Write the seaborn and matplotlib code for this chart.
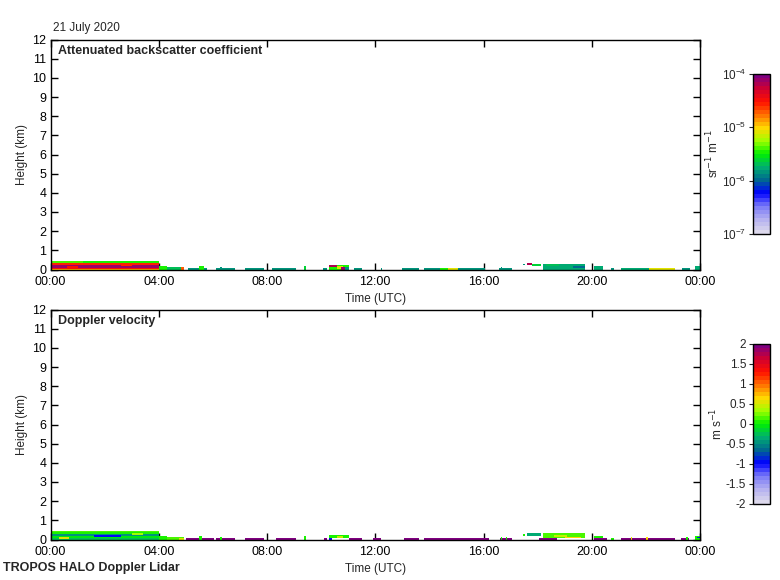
import numpy as np
import matplotlib
matplotlib.use("Agg")
import matplotlib.pyplot as plt
from matplotlib.colors import LogNorm, Normalize
import seaborn as sns

# Quicklook HALO Doppler lidar, 21 July 2020
date_label = "21 July 2020"
time_ticks = [0, 4, 8, 12, 16, 20, 24]
time_labels = ["00:00", "04:00", "08:00", "12:00", "16:00", "20:00", "00:00"]
height_ticks = list(range(0, 13))
vel_ticks = [-2, -1.5, -1, -0.5, 0, 0.5, 1, 1.5, 2]
vel_ticklabels = ["-2", "-1.5", "-1", "-0.5", "0", "0.5", "1", "1.5", "2"]

# backscatter echoes: start (h), end (h), bottom (km), top (km), log10(beta / sr-1 m-1)
bsc_t0 = [0.0, 0.0, 0.0, 0.0, 0.0, 0.0, 1.2, 0.6, 2.6, 4.0, 4.3, 4.85, 5.06, 5.5, 6.1, 6.27,
          7.2, 8.15, 9.37, 10.07, 10.3, 10.3, 10.6, 10.75, 10.9, 11.2, 12.2, 13.0, 13.8, 14.4,
          14.7, 16.55, 16.64, 17.47, 17.6, 17.8, 18.2, 18.3, 19.3, 20.1, 20.7, 21.05, 22.1,
          23.35, 23.8]
bsc_t1 = [4.0, 4.0, 4.0, 4.0, 4.0, 1.2, 4.0, 1.0, 3.0, 4.3, 4.95, 4.95, 5.8, 5.67, 6.85, 6.33,
          7.9, 9.07, 9.43, 10.25, 11.04, 10.6, 10.8, 10.9, 11.04, 11.5, 12.25, 13.6, 16.05, 14.7,
          15.07, 17.05, 16.7, 17.53, 17.8, 18.15, 19.75, 18.8, 19.75, 20.45, 20.85, 22.1, 23.05,
          23.65, 24.0]
bsc_z0 = [0.0, 0.05, 0.10, 0.27, 0.32, 0.37, 0.37, 0.10, 0.20, 0.0, 0.0, 0.0, 0.0, 0.0, 0.0, 0.0,
          0.0, 0.0, 0.0, 0.0, 0.0, 0.12, 0.05, 0.0, 0.0, 0.0, 0.0, 0.0, 0.0, 0.0,
          0.0, 0.0, 0.0, 0.22, 0.22, 0.20, 0.0, 0.20, 0.10, 0.0, 0.0, 0.0, 0.0,
          0.0, 0.0]
bsc_z1 = [0.05, 0.10, 0.27, 0.32, 0.37, 0.47, 0.43, 0.20, 0.27, 0.20, 0.12, 0.12, 0.08, 0.17, 0.08, 0.12,
          0.08, 0.08, 0.17, 0.08, 0.24, 0.24, 0.20, 0.14, 0.12, 0.08, 0.08, 0.08, 0.08, 0.08,
          0.08, 0.08, 0.12, 0.30, 0.35, 0.30, 0.30, 0.30, 0.20, 0.17, 0.10, 0.08, 0.08,
          0.08, 0.18]
bsc_val = [-4.9, -4.5, -4.1, -4.6, -5.0, -5.4, -5.5, -4.5, -4.6, -5.5, -5.7, -4.7, -5.85, -5.5, -5.85, -5.85,
           -5.85, -5.85, -5.6, -5.85, -5.5, -4.2, -5.1, -4.1, -5.85, -5.85, -5.85, -5.85, -5.85, -5.5,
           -5.1, -5.85, -5.85, -5.85, -4.2, -5.6, -5.8, -5.65, -5.95, -5.8, -5.85, -5.8, -5.1,
           -5.85, -5.8]

# Doppler velocity echoes: start (h), end (h), bottom (km), top (km), velocity (m s-1)
vel_t0 = [0.0, 0.0, 0.0, 0.0, 0.0, 1.2, 0.3, 1.6, 3.0, 4.0, 4.3, 4.75,
          5.0, 6.1, 7.2, 8.33, 10.1, 11.04, 11.9, 13.07, 13.8, 16.6, 18.07, 20.07, 21.05, 23.3,
          5.5, 6.27, 9.37, 16.64, 16.82, 17.47, 10.3, 10.3, 10.6, 17.6, 18.2, 18.6, 19.0,
          20.1, 20.7, 21.45, 22.0, 23.5, 23.8, 23.9]
vel_t1 = [4.0, 4.0, 4.0, 4.0, 1.2, 4.0, 0.7, 2.6, 3.4, 4.3, 4.95, 4.95,
          6.04, 6.85, 7.9, 9.07, 10.25, 11.5, 12.2, 13.6, 16.2, 17.05, 18.7, 20.55, 23.05, 23.6,
          5.6, 6.33, 9.43, 16.7, 16.88, 17.53, 11.04, 10.4, 10.8, 18.15, 19.75, 19.1, 19.6,
          20.45, 20.85, 21.5, 22.05, 23.55, 24.0, 24.0]
vel_z0 = [0.0, 0.08, 0.18, 0.28, 0.38, 0.38, 0.05, 0.12, 0.25, 0.0, 0.0, 0.0,
          0.0, 0.0, 0.0, 0.0, 0.0, 0.0, 0.0, 0.0, 0.0, 0.0, 0.0, 0.0, 0.0, 0.0,
          0.0, 0.0, 0.0, 0.0, 0.0, 0.20, 0.06, 0.0, 0.10, 0.18, 0.08, 0.14, 0.08,
          0.08, 0.0, 0.0, 0.0, 0.0, 0.0, 0.06]
vel_z1 = [0.08, 0.18, 0.28, 0.38, 0.47, 0.43, 0.15, 0.22, 0.32, 0.20, 0.12, 0.10,
          0.08, 0.08, 0.08, 0.08, 0.08, 0.08, 0.08, 0.08, 0.08, 0.08, 0.08, 0.08, 0.08, 0.08,
          0.17, 0.12, 0.17, 0.12, 0.12, 0.30, 0.22, 0.10, 0.18, 0.35, 0.32, 0.22, 0.14,
          0.17, 0.10, 0.12, 0.12, 0.12, 0.17, 0.14]
vel_val = [-0.3, -0.1, -0.5, 0.0, 0.15, 0.1, 0.5, -1.0, 0.3, 0.05, 0.1, 0.5,
           2.0, 2.0, 2.0, 2.0, 2.0, 2.0, 2.0, 2.0, 2.0, 2.0, 2.0, 2.0, 2.0, 2.0,
           0.0, 0.0, 0.0, 0.0, 0.0, 0.0, 0.05, -1.0, 0.4, -0.4, 0.1, 0.4, 0.6,
           0.0, 0.0, 0.5, 0.6, 0.0, 0.0, -1.0]


def echo_grid(t0, t1, z0, z1, val, t_edges, z_edges):
    tc = 0.5 * (t_edges[:-1] + t_edges[1:])
    zc = 0.5 * (z_edges[:-1] + z_edges[1:])
    grid = np.full((len(zc), len(tc)), np.nan)
    for a, b, lo, hi, v in zip(t0, t1, z0, z1, val):
        cols = (tc >= a) & (tc < b)
        rows = (zc >= lo) & (zc < hi)
        grid[np.ix_(rows, cols)] = v
    return grid


sns.set_style("ticks")
plt.rcParams["font.family"] = ["Liberation Sans", "DejaVu Sans"]
plt.rcParams["font.size"] = 8.5

cmap = sns.blend_palette(["#dcd8ec", "#b4b0f0", "#7878f8", "#0000ff", "#006890",
                          "#00b070", "#00f000", "#a0ff00", "#ffd800", "#ff7000",
                          "#ff1000", "#d00030", "#800080"], as_cmap=True).resampled(40)
cmap.set_bad(alpha=0)

t_edges = np.arange(0, 24 + 1e-9, 1 / 30)
z_edges = np.arange(0, 0.6 + 1e-9, 0.02)
bsc = 10.0 ** echo_grid(bsc_t0, bsc_t1, bsc_z0, bsc_z1, bsc_val, t_edges, z_edges)
vel = echo_grid(vel_t0, vel_t1, vel_z0, vel_z1, vel_val, t_edges, z_edges)

fig = plt.figure(figsize=(7.8, 5.8), dpi=100)
ax1 = fig.add_axes([50.5 / 780, 1 - 269.5 / 580, 649.5 / 780, 230 / 580])
ax2 = fig.add_axes([50.5 / 780, 1 - 539.5 / 580, 649.5 / 780, 230 / 580])
cax1 = fig.add_axes([753 / 780, 1 - 234 / 580, 17 / 780, 160 / 580])
cax2 = fig.add_axes([753 / 780, 1 - 504 / 580, 17 / 780, 160 / 580])

m1 = ax1.pcolormesh(t_edges, z_edges, np.ma.masked_invalid(bsc), cmap=cmap,
                    norm=LogNorm(1e-7, 1e-4))
m2 = ax2.pcolormesh(t_edges, z_edges, np.ma.masked_invalid(vel), cmap=cmap,
                    norm=Normalize(-2, 2))

for ax, title in [(ax1, "Attenuated backscatter coefficient"), (ax2, "Doppler velocity")]:
    ax.set_xlim(0, 24)
    ax.set_ylim(0, 12)
    ax.set_xticks(time_ticks)
    ax.set_xticklabels(time_labels)
    ax.set_yticks(height_ticks)
    ax.tick_params(direction="in", top=True, right=True, length=5, width=1,
                   labelsize=9, colors="black")
    ax.tick_params(axis="x", pad=5)
    ax.tick_params(axis="y", pad=3)
    for s in ax.spines.values():
        s.set_color("black")
        s.set_linewidth(1)
    ax.set_xlabel("Time (UTC)", fontsize=8.5, labelpad=3)
    ax.set_ylabel("Height (km)", fontsize=8.5, labelpad=3)
    ax.text(0.012, 0.975, title, transform=ax.transAxes, fontsize=9,
            fontweight="bold", va="top", ha="left")

cb1 = fig.colorbar(m1, cax=cax1)
cb2 = fig.colorbar(m2, cax=cax2)
cb2.set_ticks(vel_ticks)
cb2.set_ticklabels(vel_ticklabels)
for cb, lab in [(cb1, "sr$^{-1}$ m$^{-1}$"), (cb2, "m s$^{-1}$")]:
    cb.ax.yaxis.set_ticks_position("left")
    cb.ax.yaxis.set_label_position("left")
    cb.ax.minorticks_off()
    cb.ax.tick_params(which="both", length=3, labelsize=8.5, pad=2)
    cb.outline.set_linewidth(1)
    cb.outline.set_edgecolor("black")
    cb.set_label(lab, fontsize=8.5, labelpad=0)

fig.text(53 / 780, 1 - 28 / 580, date_label, fontsize=8.5, va="center", ha="left")
fig.text(3 / 780, 1 - 568 / 580, "TROPOS HALO Doppler Lidar", fontsize=9,
         fontweight="bold", va="center", ha="left")

fig.savefig("out.png", dpi=100, facecolor="white")
